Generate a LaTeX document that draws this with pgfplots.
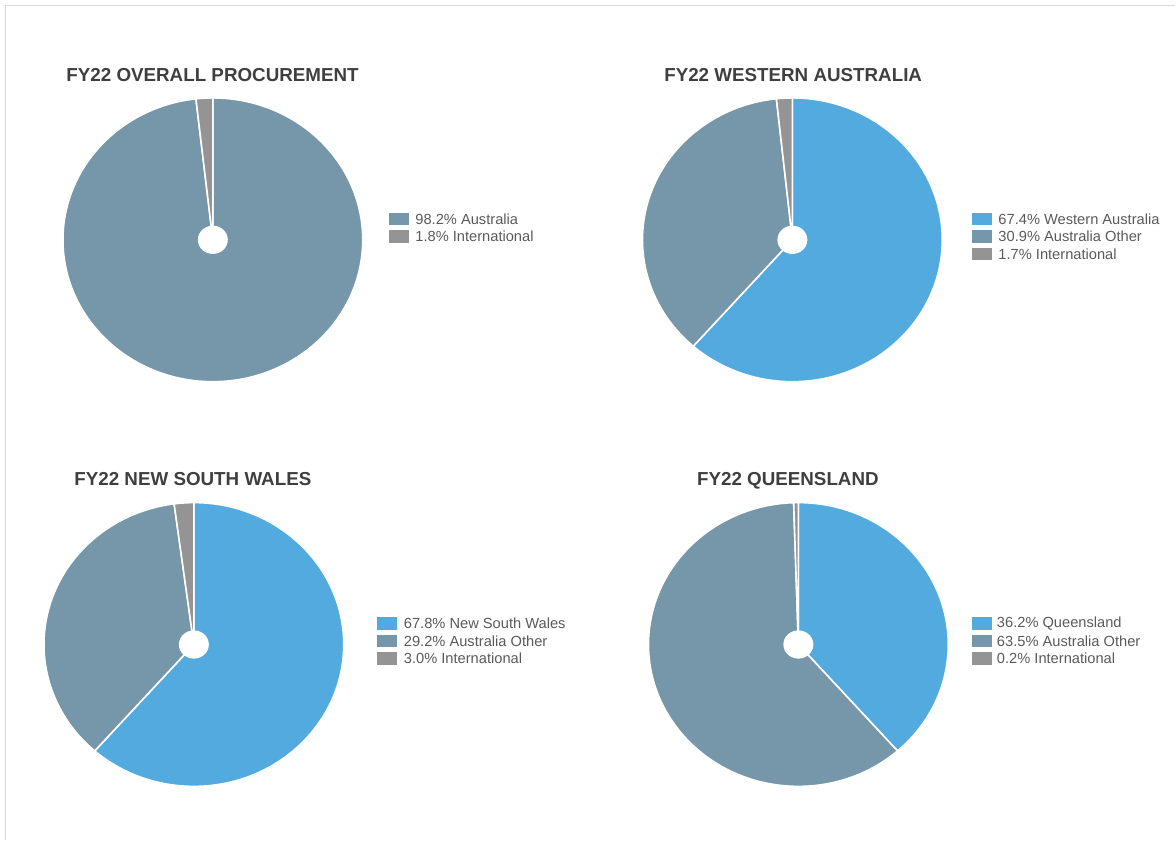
\documentclass[border=0pt]{standalone}
\usepackage{pgfplots}
\pgfplotsset{compat=1.18}
\usepackage{pgfplotstable}
\usepackage{fontspec}
\setmainfont{Liberation Sans}

\definecolor{pblue}{HTML}{52AADF}
\definecolor{psteel}{HTML}{7697A9}
\definecolor{pgray}{HTML}{949494}
\definecolor{ttl}{HTML}{3F3F3F}
\definecolor{lgd}{HTML}{5A5A5A}
\definecolor{framec}{HTML}{DADADA}

% share = share of the pie as drawn in the reference (%), label = legend value (%)
\pgfplotstableread[col sep=comma]{
share,label,color,name
98.2,98.2,psteel,Australia
1.8,1.8,pgray,International
}\tabOverall
\pgfplotstableread[col sep=comma]{
share,label,color,name
61.5,67.4,pblue,Western Australia
36.8,30.9,psteel,Australia Other
1.7,1.7,pgray,International
}\tabWA
\pgfplotstableread[col sep=comma]{
share,label,color,name
61.5,67.8,pblue,New South Wales
36.4,29.2,psteel,Australia Other
2.1,3.0,pgray,International
}\tabNSW
\pgfplotstableread[col sep=comma]{
share,label,color,name
38.5,36.2,pblue,Queensland
61.0,63.5,psteel,Australia Other
0.5,0.2,pgray,International
}\tabQLD

\def\rx{112.5pt}
\def\ry{106.5pt}

% #1 table, #2 cx, #3 cy (pixel coordinates)
\newcommand\drawpie[3]{%
  \pgfplotstablegetrowsof{#1}%
  \pgfmathtruncatemacro\lastrow{\pgfplotsretval-1}%
  \gdef\cum{0}%
  \foreach \r in {0,...,\lastrow}{%
    \pgfplotstablegetelem{\r}{share}\of{#1}\let\sh\pgfplotsretval
    \pgfplotstablegetelem{\r}{color}\of{#1}\let\col\pgfplotsretval
    \pgfmathsetmacro\aS{90-3.6*\cum}%
    \pgfmathsetmacro\aE{90-3.6*(\cum+\sh)}%
    \pgfmathsetmacro\newcum{\cum+\sh}\xdef\cum{\newcum}%
    \filldraw[fill=\col, draw=white, line width=1.2pt, line join=round]
      (axis cs:#2,#3) -- ++({\rx*cos(\aS)},{\ry*sin(\aS)})
      arc[start angle=\aS, end angle=\aE, x radius=\rx, y radius=\ry] -- cycle;
  }%
  \fill[white] (axis cs:#2,#3) ellipse[x radius=11.25pt, y radius=10.6pt];
}

% #1 table, #2 square left x, #3 first row centre y, #4 text left x
\newcommand\drawlegend[4]{%
  \pgfplotstablegetrowsof{#1}%
  \pgfmathtruncatemacro\lastrow{\pgfplotsretval-1}%
  \foreach \r in {0,...,\lastrow}{%
    \pgfplotstablegetelem{\r}{color}\of{#1}\let\col\pgfplotsretval
    \pgfplotstablegetelem{\r}{label}\of{#1}\let\lab\pgfplotsretval
    \pgfplotstablegetelem{\r}{name}\of{#1}\let\nm\pgfplotsretval
    \pgfmathsetmacro\yy{#3+17.5*\r}%
    \fill[\col] (axis cs:#2,\yy) ++(0,-4.7pt) rectangle ++(15pt,9.4pt);
    \node[anchor=west, inner sep=0pt, text=lgd, font=\fontsize{11}{13}\selectfont]
      at (axis cs:#4,\yy) {\lab\%\ \nm};
  }%
}

\begin{document}
\begin{tikzpicture}
\begin{axis}[
  hide axis, scale only axis,
  width=882pt, height=630.75pt,
  xmin=0, xmax=1176, ymin=0, ymax=841,
  y dir=reverse, clip=false]
\path (axis cs:0,0) (axis cs:1176,841);
\pgfplotsextra{%
  \draw[framec, line width=1.4pt] (axis cs:1176,5.5) -- (axis cs:5.5,5.5) -- (axis cs:5.5,841);
  \drawpie{\tabOverall}{213}{240}
  \drawpie{\tabWA}{793}{240}
  \drawpie{\tabNSW}{194}{645}
  \drawpie{\tabQLD}{799}{645}
  \drawlegend{\tabOverall}{389}{219}{415.5}
  \drawlegend{\tabWA}{973}{219.3}{999}
  \drawlegend{\tabNSW}{377.5}{624}{404}
  \drawlegend{\tabQLD}{972.5}{624}{997.5}
  \begingroup
  \tikzset{every node/.style={inner sep=0pt, text=ttl, font=\bfseries\fontsize{14.1}{16}\selectfont}}
  \node at (axis cs:212.7,74.7) {FY22 OVERALL PROCUREMENT};
  \node at (axis cs:793.8,74.8) {FY22 WESTERN AUSTRALIA};
  \node at (axis cs:193,479) {FY22 NEW SOUTH WALES};
  \node at (axis cs:788.5,481) {FY22 QUEENSLAND};
  \endgroup
}
\end{axis}
\end{tikzpicture}
\end{document}
